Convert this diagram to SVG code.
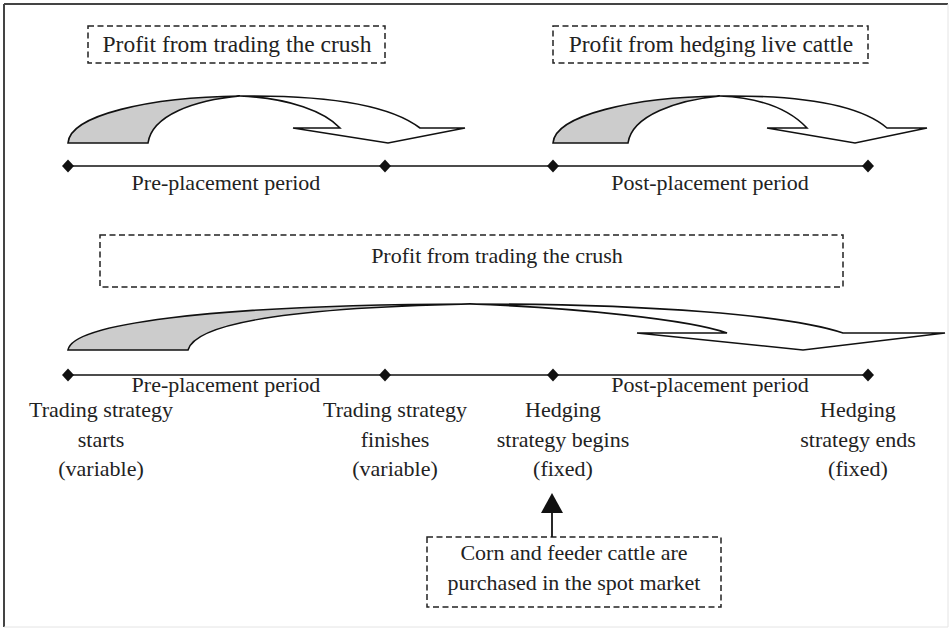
<svg xmlns="http://www.w3.org/2000/svg" width="950" height="629" viewBox="0 0 950 629">
<style>
.t{font-family:'Liberation Serif','Times New Roman','DejaVu Serif',serif;font-size:22px;fill:#222;text-anchor:middle}
.t23{font-size:23.5px}
.box{fill:none;stroke:#222;stroke-width:1.5;stroke-dasharray:6 3.5}
.ol{fill:none;stroke:#111;stroke-width:1.6;stroke-linejoin:miter}
.gr{fill:#cccccc;stroke:#111;stroke-width:1.6}
.tl{stroke:#111;stroke-width:1.6}
</style>
<defs>
<polygon id="dia" points="0,-6.5 6,0 0,6.5 -6,0" fill="#111"/>
<marker id="ah" viewBox="0 0 20 22" refX="0" refY="11" markerWidth="20" markerHeight="22" markerUnits="userSpaceOnUse" orient="auto"><path d="M0,0 L20,11 L0,22 Z" fill="#111"/></marker>
</defs>
<rect width="950" height="629" fill="#fff"/>
<g id="frame">
<line x1="4" y1="4" x2="948" y2="4" stroke="#444" stroke-width="2"/>
<line x1="4" y1="4" x2="4" y2="627" stroke="#444" stroke-width="2"/>
<line x1="948" y1="4" x2="948" y2="627" stroke="#e4e4e4" stroke-width="1"/>
<line x1="4" y1="627" x2="948" y2="627" stroke="#e4e4e4" stroke-width="1"/>
</g>
<g id="box-crush-top">
<rect class="box" x="88" y="26" width="297" height="37"/>
<text class="t t23" x="237" y="52">Profit from trading the crush</text>
</g>
<g id="box-cattle-top">
<rect class="box" x="553" y="26" width="315" height="37"/>
<text class="t t23" x="711" y="52">Profit from hedging live cattle</text>
</g>
<g id="arrow-1">
<path class="gr" d="M68,143 C70,115 150,97 240,96 C195,100 152,115 148,143 Z"/>
<path class="ol" d="M240,96 C330,95 390,105 420,128 L465,128 L388,143 L293,128 L340,128 C325,112 290,98 240,96"/>
</g>
<g id="arrow-2">
<path class="gr" d="M553,143 C555,115 635,97 720,96 C678,100 632,115 628,143 Z"/>
<path class="ol" d="M720,96 C805,95 860,105 887,128 L927,128 L855,143 L767,128 L807,128 C792,112 765,98 720,96"/>
</g>
<g id="timeline-1">
<line class="tl" x1="68" y1="166" x2="868" y2="166"/>
<use href="#dia" x="68" y="166"/><use href="#dia" x="385" y="166"/><use href="#dia" x="553" y="166"/><use href="#dia" x="868" y="166"/>
<text class="t" x="226" y="190">Pre-placement period</text>
<text class="t" x="710" y="190">Post-placement period</text>
</g>
<g id="box-crush-big">
<rect class="box" x="100" y="235" width="743" height="52"/>
<text class="t" x="497" y="263">Profit from trading the crush</text>
</g>
<g id="arrow-big">
<path class="gr" d="M68,350 C72,325 200,305 470,304 C280,308 195,325 188,350 Z"/>
<path class="ol" d="M470,304 C650,304 790,315 843,333 L945,333 L803,350 L637,333 L727,333 C690,320 580,308 470,304"/>
</g>
<g id="timeline-2">
<line class="tl" x1="68" y1="375" x2="868" y2="375"/>
<use href="#dia" x="68" y="375"/><use href="#dia" x="385" y="375"/><use href="#dia" x="553" y="375"/><use href="#dia" x="868" y="375"/>
<text class="t" x="226" y="392">Pre-placement period</text>
<text class="t" x="710" y="392">Post-placement period</text>
</g>
<g id="label-trading-starts">
<text class="t" x="101" y="417">Trading strategy</text>
<text class="t" x="101" y="447">starts</text>
<text class="t" x="101" y="476">(variable)</text>
</g>
<g id="label-trading-finishes">
<text class="t" x="395" y="417">Trading strategy</text>
<text class="t" x="395" y="447">finishes</text>
<text class="t" x="395" y="476">(variable)</text>
</g>
<g id="label-hedging-begins">
<text class="t" x="563" y="417">Hedging</text>
<text class="t" x="563" y="447">strategy begins</text>
<text class="t" x="563" y="476">(fixed)</text>
</g>
<g id="label-hedging-ends">
<text class="t" x="858" y="417">Hedging</text>
<text class="t" x="858" y="447">strategy ends</text>
<text class="t" x="858" y="476">(fixed)</text>
</g>
<g id="box-spot">
<rect class="box" x="427" y="537" width="294" height="70"/>
<text class="t" x="574" y="560">Corn and feeder cattle are</text>
<text class="t" x="574" y="590">purchased in the spot market</text>
</g>
<g id="connectors">
<line x1="552" y1="537" x2="552" y2="513" stroke="#111" stroke-width="1.8" marker-end="url(#ah)"/>
</g>
</svg>
